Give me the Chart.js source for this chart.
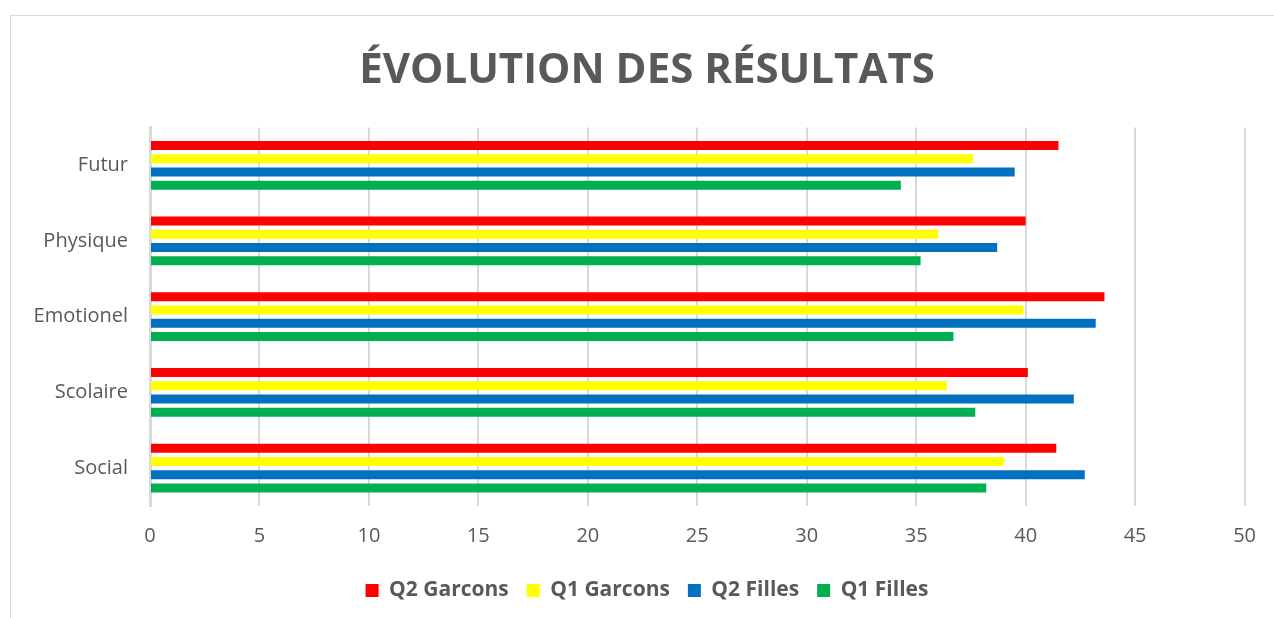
<!DOCTYPE html>
<html>
<head>
<meta charset="utf-8">
<script src="https://cdn.jsdelivr.net/npm/chart.js@4"></script>
<style>
  body { margin: 0; background: #fff; }
  .frame { position: absolute; left: 10px; top: 15px; width: 1280px; height: 620px; border: 1px solid #d9d9d9; }
  #chart { position: absolute; left: 0; top: 0; }
</style>
</head>
<body>
<div class="frame"></div>
<canvas id="chart" width="1274" height="618"></canvas>
<script>
// categories top to bottom
const categories = ['Futur', 'Physique', 'Emotionel', 'Scolaire', 'Social'];
const q2Garcons = [41.5, 40.0, 43.6, 40.1, 41.4];
const q1Garcons = [37.6, 36.0, 39.9, 36.4, 39.0];
const q2Filles  = [39.5, 38.7, 43.2, 42.2, 42.7];
const q1Filles  = [34.3, 35.2, 36.7, 37.7, 38.2];
const xTicks = [0, 5, 10, 15, 20, 25, 30, 35, 40, 45, 50];

const grey = '#595959';
const font = "'Open Sans', sans-serif";

const ctx = document.getElementById('chart').getContext('2d');
const chart = new Chart(ctx, {
    type: 'bar',
    data: {
        labels: categories,
        datasets: [
            { label: 'Q2 Garcons', data: q2Garcons, backgroundColor: '#ff0000' },
            { label: 'Q1 Garcons', data: q1Garcons, backgroundColor: '#ffff00' },
            { label: 'Q2 Filles', data: q2Filles, backgroundColor: '#0070c0' },
            { label: 'Q1 Filles', data: q1Filles, backgroundColor: '#00b050' }
        ]
    },
    options: {
        indexAxis: 'y',
        responsive: false,
        animation: false,
        categoryPercentage: 0.7,
        barPercentage: 0.68,
        layout: { padding: { left: 42, right: 22, top: 0, bottom: 7 } },
        plugins: {
            title: {
                display: true,
                text: 'ÉVOLUTION DES RÉSULTATS',
                color: grey,
                font: { family: font, size: 42, weight: 'bold' },
                padding: { top: 46, bottom: 31 }
            },
            legend: {
                position: 'bottom',
                labels: {
                    color: grey,
                    boxWidth: 13,
                    boxHeight: 13,
                    padding: 18,
                    font: { family: font, size: 21, weight: 'bold' }
                }
            },
            tooltip: { enabled: false }
        },
        scales: {
            x: {
                min: 0,
                max: 50,
                afterBuildTicks: (scale) => { scale.ticks = xTicks.map(v => ({ value: v })); },
                afterFit: (scale) => { scale.height = 56; },
                grid: { color: '#d9d9d9', lineWidth: 2, drawTicks: false },
                border: { display: false },
                ticks: { color: grey, padding: 18, font: { family: font, size: 20 } }
            },
            y: {
                afterFit: (scale) => {
                    scale.width = 108;
                    // let the labels run into the left padding without being clipped
                    scale._computeLabelArea = () => null;
                },
                grid: { display: false, drawTicks: false },
                border: { display: true, color: '#d9d9d9', width: 3 },
                ticks: { color: grey, padding: 22, font: { family: font, size: 20 } }
            }
        }
    }
});
</script>
</body>
</html>
